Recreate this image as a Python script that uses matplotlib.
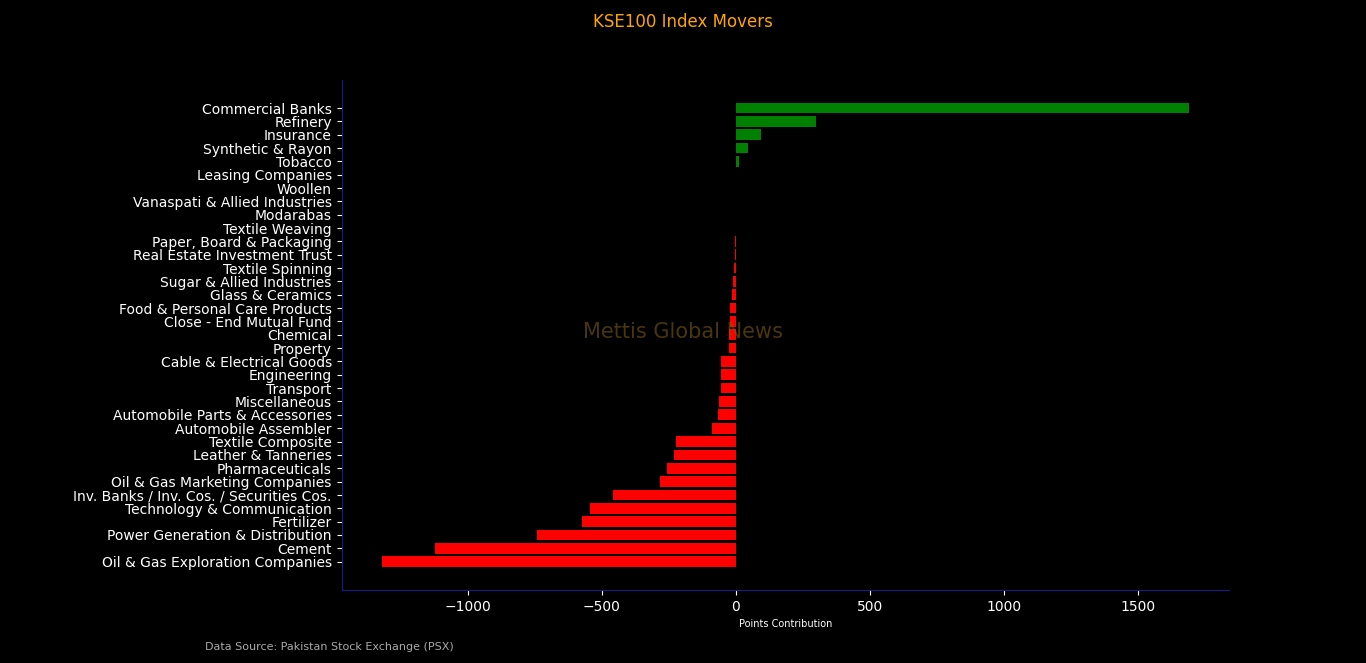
import matplotlib.pyplot as plt

sectors = [
    "Commercial Banks", "Refinery", "Insurance", "Synthetic & Rayon", "Tobacco",
    "Leasing Companies", "Woollen", "Vanaspati & Allied Industries", "Modarabas",
    "Textile Weaving", "Paper, Board & Packaging", "Real Estate Investment Trust",
    "Textile Spinning", "Sugar & Allied Industries", "Glass & Ceramics",
    "Food & Personal Care Products", "Close - End Mutual Fund", "Chemical", "Property",
    "Cable & Electrical Goods", "Engineering", "Transport", "Miscellaneous",
    "Automobile Parts & Accessories", "Automobile Assembler", "Textile Composite",
    "Leather & Tanneries", "Pharmaceuticals", "Oil & Gas Marketing Companies",
    "Inv. Banks / Inv. Cos. / Securities Cos.", "Technology & Communication",
    "Fertilizer", "Power Generation & Distribution", "Cement",
    "Oil & Gas Exploration Companies",
]
points = [
    1690, 298, 93, 45, 12,
    0, 0, 0, 0,
    0, -2.5, -3,
    -7, -11, -15,
    -22, -22, -25, -26,
    -56, -56, -57, -63,
    -67, -90, -224,
    -231, -257, -284,
    -459, -545,
    -575, -743, -1123,
    -1321,
]

colors = ["green" if p > 0 else "red" for p in points]

fig = plt.figure(figsize=(13.66, 6.63), dpi=100, facecolor="black")
ax = fig.add_axes([0.25, 0.11, 0.65, 0.77], facecolor="black")

ax.barh(sectors[::-1], points[::-1], color=colors[::-1], height=0.8)

for side in ["top", "right"]:
    ax.spines[side].set_visible(False)
for side in ["left", "bottom"]:
    ax.spines[side].set_color("#1a1a8c")
ax.tick_params(colors="white", labelsize=10)
ax.set_xlabel("Points Contribution", color="white", fontsize=7)

fig.suptitle("KSE100 Index Movers", color="orange", fontsize=12, y=0.98)
fig.text(0.5, 0.5, "Mettis Global News", color="#7a5a1a", alpha=0.6,
         fontsize=15, ha="center", va="center")
fig.text(0.15, 0.019, "Data Source: Pakistan Stock Exchange (PSX)",
         color="#aaaaaa", fontsize=8)

fig.savefig("out.png", facecolor="black")
